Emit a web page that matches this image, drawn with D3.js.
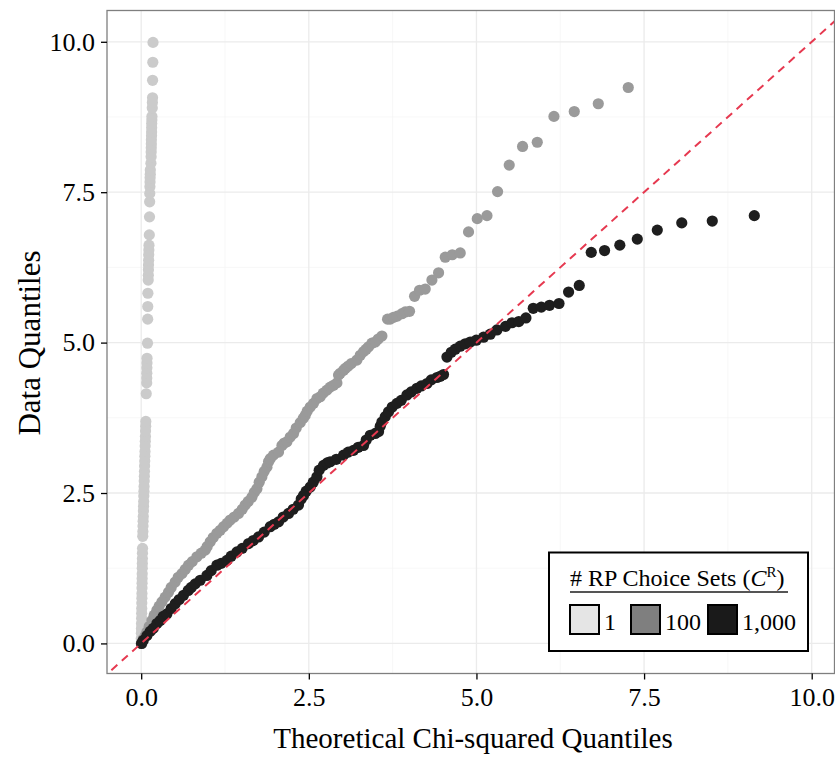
<!DOCTYPE html>
<html>
<head>
<meta charset="utf-8">
<script src="https://cdn.jsdelivr.net/npm/d3@7/dist/d3.min.js"></script>
<style>
  html, body { margin: 0; padding: 0; background: #ffffff; }
  svg { display: block; font-family: "Liberation Serif", "DejaVu Serif", serif; }
</style>
</head>
<body>
<svg id="chart" width="835" height="757"></svg>
<script>
// Chi-squared Q-Q plot: sorted data quantiles against theoretical quantiles,
// one series per number of RP choice sets.

const seriesNames = ["1", "100", "1,000"];
const pointColors = ["#cbcbcb", "#9a9a9a", "#1e1e1e"];
const keyColors = ["#e5e5e5", "#7f7f7f", "#1a1a1a"];

const xTicks = [0, 2.5, 5, 7.5, 10];
const yTicks = [0, 2.5, 5, 7.5, 10];
const xMinor = [1.25, 3.75, 6.25, 8.75];
const yMinor = [1.25, 3.75, 6.25, 8.75];

// [theoretical quantile, data quantile]
const sets1 = [
  [0.000, 0.00], [0.001, 0.08], [0.003, 0.17], [0.004, 0.25], [0.005, 0.33],
  [0.006, 0.42], [0.007, 0.50], [0.008, 0.58], [0.009, 0.67], [0.010, 0.75],
  [0.011, 0.83], [0.012, 0.92], [0.013, 1.00], [0.014, 1.08], [0.015, 1.16],
  [0.016, 1.25], [0.017, 1.33], [0.018, 1.41], [0.019, 1.50], [0.020, 1.58],
  [0.023, 1.78], [0.025, 1.86], [0.027, 1.95], [0.029, 2.03], [0.031, 2.11],
  [0.033, 2.20], [0.035, 2.28], [0.037, 2.36], [0.039, 2.45], [0.041, 2.53],
  [0.043, 2.61], [0.045, 2.70], [0.047, 2.78], [0.049, 2.86], [0.051, 2.95],
  [0.053, 3.03], [0.055, 3.11], [0.057, 3.19], [0.059, 3.28], [0.061, 3.36],
  [0.063, 3.44], [0.065, 3.53], [0.067, 3.61], [0.069, 3.69],
  [0.075, 4.15],
  [0.082, 4.33], [0.083, 4.41], [0.084, 4.49], [0.085, 4.58], [0.086, 4.66], [0.087, 4.74],
  [0.094, 4.99], [0.097, 5.39], [0.098, 5.60], [0.100, 5.82],
  [0.105, 6.04], [0.106, 6.12], [0.108, 6.21], [0.109, 6.29], [0.111, 6.37],
  [0.112, 6.46], [0.114, 6.54], [0.116, 6.62],
  [0.121, 6.79], [0.124, 7.09], [0.126, 7.34], [0.128, 7.48],
  [0.130, 7.59], [0.132, 7.67], [0.133, 7.74], [0.135, 7.80], [0.136, 7.87],
  [0.145, 7.98],
  [0.148, 8.09], [0.149, 8.17], [0.150, 8.24], [0.151, 8.30], [0.152, 8.37],
  [0.154, 8.44], [0.155, 8.50], [0.156, 8.57], [0.157, 8.64], [0.159, 8.70], [0.160, 8.76],
  [0.165, 8.90], [0.167, 8.99], [0.169, 9.07],
  [0.170, 9.36], [0.173, 9.66], [0.176, 9.99]
];

const sets100 = [
  [0.010, 0.00], [0.030, 0.07], [0.060, 0.13], [0.085, 0.19], [0.119, 0.28],
  [0.160, 0.38], [0.194, 0.47], [0.234, 0.55], [0.268, 0.62], [0.309, 0.69],
  [0.358, 0.77], [0.407, 0.85], [0.447, 0.93], [0.507, 1.02], [0.552, 1.10],
  [0.607, 1.16], [0.656, 1.23], [0.706, 1.30], [0.761, 1.36], [0.831, 1.44],
  [0.895, 1.50], [0.955, 1.55], [0.984, 1.61], [1.029, 1.69], [1.074, 1.76],
  [1.129, 1.83], [1.178, 1.88], [1.228, 1.94], [1.283, 2.00], [1.328, 2.05],
  [1.387, 2.10], [1.451, 2.16], [1.507, 2.23], [1.551, 2.30], [1.596, 2.36],
  [1.651, 2.43], [1.686, 2.51], [1.726, 2.57], [1.760, 2.68], [1.800, 2.77],
  [1.835, 2.86], [1.875, 2.93], [1.899, 3.02], [1.924, 3.07], [1.973, 3.13],
  [2.048, 3.18], [2.099, 3.29], [2.133, 3.33], [2.173, 3.35], [2.223, 3.43],
  [2.272, 3.49], [2.312, 3.58], [2.372, 3.67], [2.416, 3.74], [2.446, 3.79],
  [2.476, 3.86], [2.521, 3.93], [2.570, 3.99], [2.621, 4.07], [2.670, 4.10],
  [2.715, 4.16], [2.770, 4.21], [2.819, 4.26], [2.868, 4.29], [2.919, 4.33],
  [2.943, 4.46], [2.968, 4.49], [3.018, 4.54], [3.043, 4.57], [3.088, 4.61],
  [3.132, 4.65], [3.217, 4.71], [3.267, 4.79], [3.316, 4.85], [3.356, 4.89],
  [3.391, 4.93], [3.441, 4.99], [3.491, 5.01], [3.535, 5.06], [3.590, 5.11],
  [3.674, 5.39], [3.714, 5.39], [3.763, 5.42], [3.819, 5.44], [3.889, 5.48],
  [3.938, 5.51], [4.002, 5.52], [4.077, 5.77], [4.151, 5.87], [4.236, 5.89],
  [4.336, 6.04], [4.435, 6.16], [4.535, 6.42], [4.639, 6.46], [4.758, 6.49],
  [4.882, 6.84], [5.012, 7.06], [5.157, 7.11], [5.315, 7.51], [5.489, 7.95],
  [5.688, 8.26], [5.907, 8.33], [6.156, 8.76], [6.459, 8.84], [6.817, 8.97],
  [7.264, 9.24]
];

const sets1000 = [
  [0.005, 0.00], [0.030, 0.05], [0.085, 0.13], [0.134, 0.20], [0.179, 0.25],
  [0.234, 0.33], [0.283, 0.38], [0.328, 0.45], [0.383, 0.49], [0.447, 0.58],
  [0.507, 0.66], [0.567, 0.73], [0.631, 0.80], [0.701, 0.88], [0.746, 0.93],
  [0.806, 0.99], [0.880, 1.05], [0.980, 1.13], [1.044, 1.21], [1.129, 1.30],
  [1.193, 1.33], [1.278, 1.38], [1.342, 1.45], [1.428, 1.52], [1.507, 1.58],
  [1.601, 1.66], [1.671, 1.71], [1.750, 1.77], [1.835, 1.85], [1.924, 1.94],
  [1.984, 1.98], [2.048, 2.02], [2.118, 2.10], [2.197, 2.16], [2.267, 2.23],
  [2.346, 2.30], [2.387, 2.40], [2.421, 2.46], [2.461, 2.53], [2.521, 2.60],
  [2.566, 2.68], [2.621, 2.77], [2.655, 2.88], [2.719, 2.96], [2.774, 3.00],
  [2.819, 3.02], [2.909, 3.06], [3.018, 3.13], [3.088, 3.18], [3.167, 3.21],
  [3.237, 3.26], [3.316, 3.29], [3.356, 3.38], [3.416, 3.46], [3.491, 3.49],
  [3.540, 3.52], [3.565, 3.61], [3.590, 3.68], [3.640, 3.77], [3.689, 3.85],
  [3.744, 3.93], [3.814, 3.99], [3.878, 4.04], [3.963, 4.13], [4.027, 4.18],
  [4.112, 4.24], [4.177, 4.28], [4.262, 4.32], [4.326, 4.38], [4.411, 4.42],
  [4.460, 4.44], [4.509, 4.47], [4.560, 4.76], [4.624, 4.84], [4.684, 4.89],
  [4.758, 4.94], [4.833, 4.98], [4.907, 5.01], [4.997, 5.04], [5.106, 5.09],
  [5.206, 5.14], [5.306, 5.21], [5.434, 5.27], [5.530, 5.33], [5.631, 5.35],
  [5.738, 5.41], [5.847, 5.57], [5.967, 5.59], [6.090, 5.62], [6.231, 5.65],
  [6.374, 5.84], [6.533, 5.95], [6.712, 6.50], [6.911, 6.53], [7.138, 6.62],
  [7.399, 6.72], [7.697, 6.87], [8.062, 6.99], [8.517, 7.02], [9.144, 7.11]
];

const allSets = [sets1, sets100, sets1000];

const svg = d3.select("#chart");
const panel = { left: 107, top: 10.5, right: 834.5, bottom: 673.5 };

const x = d3.scaleLinear().domain([-0.51, 10.34]).range([panel.left, panel.right]);
const y = d3.scaleLinear().domain([-0.5, 10.52]).range([panel.bottom, panel.top]);

svg.append("defs").append("clipPath").attr("id", "panel-clip")
  .append("rect")
  .attr("x", panel.left).attr("y", panel.top)
  .attr("width", panel.right - panel.left).attr("height", panel.bottom - panel.top);

// grid
const grid = svg.append("g");
grid.selectAll(".xminor").data(xMinor).join("line")
  .attr("x1", d => x(d)).attr("x2", d => x(d))
  .attr("y1", panel.top).attr("y2", panel.bottom)
  .attr("stroke", "#f4f4f4").attr("stroke-width", 0.7);
grid.selectAll(".yminor").data(yMinor).join("line")
  .attr("y1", d => y(d)).attr("y2", d => y(d))
  .attr("x1", panel.left).attr("x2", panel.right)
  .attr("stroke", "#f4f4f4").attr("stroke-width", 0.7);
grid.selectAll(".xmajor").data(xTicks).join("line")
  .attr("x1", d => x(d)).attr("x2", d => x(d))
  .attr("y1", panel.top).attr("y2", panel.bottom)
  .attr("stroke", "#ebebeb").attr("stroke-width", 1.3);
grid.selectAll(".ymajor").data(yTicks).join("line")
  .attr("y1", d => y(d)).attr("y2", d => y(d))
  .attr("x1", panel.left).attr("x2", panel.right)
  .attr("stroke", "#ebebeb").attr("stroke-width", 1.3);

// points
const marks = svg.append("g").attr("clip-path", "url(#panel-clip)");
allSets.forEach((set, i) => {
  marks.append("g").selectAll("circle").data(set).join("circle")
    .attr("cx", d => x(d[0])).attr("cy", d => y(d[1]))
    .attr("r", 5.6)
    .attr("fill", pointColors[i]);
});

// y = x reference line
const diag = [-0.6, 10.6];
marks.append("line")
  .attr("x1", x(diag[0])).attr("y1", y(diag[0]))
  .attr("x2", x(diag[1])).attr("y2", y(diag[1]))
  .attr("stroke", "#e63950").attr("stroke-width", 2)
  .attr("stroke-dasharray", "8,6");

// panel border
svg.append("rect")
  .attr("x", panel.left).attr("y", panel.top)
  .attr("width", panel.right - panel.left).attr("height", panel.bottom - panel.top)
  .attr("fill", "none").attr("stroke", "#7f7f7f").attr("stroke-width", 1.3);

// axes
const fmt = d3.format(".1f");
const xAxis = svg.append("g").attr("transform", `translate(0,${panel.bottom})`)
  .call(d3.axisBottom(x).tickValues(xTicks).tickFormat(fmt).tickSize(6).tickPadding(8));
const yAxis = svg.append("g").attr("transform", `translate(${panel.left},0)`)
  .call(d3.axisLeft(y).tickValues(yTicks).tickFormat(fmt).tickSize(6).tickPadding(6));
[xAxis, yAxis].forEach(a => {
  a.select(".domain").remove();
  a.selectAll(".tick line").attr("stroke", "#000").attr("stroke-width", 1.3);
  a.selectAll(".tick text").attr("fill", "#000")
    .style("font-family", "'Liberation Serif', serif").style("font-size", "26px");
});

// axis titles
svg.append("text")
  .attr("x", 473).attr("y", 748)
  .attr("text-anchor", "middle")
  .style("font-size", "29px")
  .text("Theoretical Chi-squared Quantiles");
svg.append("text")
  .attr("transform", "translate(40,343) rotate(-90)")
  .attr("text-anchor", "middle")
  .style("font-size", "31px")
  .text("Data Quantiles");

// legend
const lg = svg.append("g");
lg.append("rect")
  .attr("x", 549).attr("y", 552.5).attr("width", 259).attr("height", 98.5)
  .attr("fill", "#ffffff").attr("stroke", "#000").attr("stroke-width", 2);
const title = lg.append("text").attr("x", 570).attr("y", 586).style("font-size", "24px");
title.append("tspan").text("# RP Choice Sets (");
title.append("tspan").style("font-style", "italic").text("C");
title.append("tspan").attr("dy", -9).style("font-size", "15px").text("R");
title.append("tspan").attr("dy", 9).text(")");
lg.append("line")
  .attr("x1", 570).attr("x2", 788).attr("y1", 592).attr("y2", 592)
  .attr("stroke", "#555555").attr("stroke-width", 2);

const keyX = [570, 631, 708];
seriesNames.forEach((name, i) => {
  lg.append("rect")
    .attr("x", keyX[i]).attr("y", 605).attr("width", 29).attr("height", 29)
    .attr("fill", keyColors[i]).attr("stroke", "#000").attr("stroke-width", 2);
  lg.append("text")
    .attr("x", keyX[i] + 34).attr("y", 630)
    .style("font-size", "24px")
    .text(name);
});
</script>
</body>
</html>
